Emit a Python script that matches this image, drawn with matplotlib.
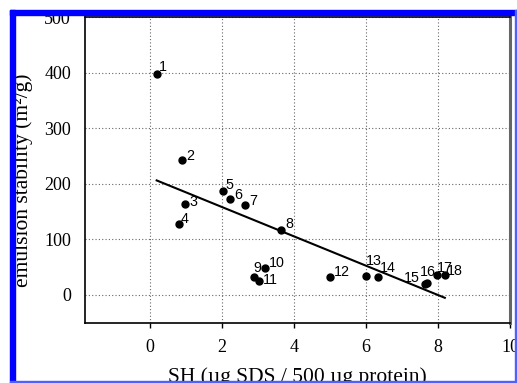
import numpy as np
import matplotlib
matplotlib.use("Agg")
import matplotlib.pyplot as plt
from matplotlib.patches import Rectangle

# valeurs
sample_ids = ["1", "2", "3", "4", "5", "6", "7", "8", "9",
              "10", "11", "12", "13", "14", "15", "16", "17", "18"]
sh = np.array([0.19, 0.90, 0.99, 0.81, 2.02, 2.22, 2.64, 3.64, 2.89,
               3.20, 3.04, 5.00, 6.00, 6.33, 7.64, 7.70, 7.98, 8.19])
stability = np.array([397, 243, 163, 127, 187, 173, 162, 116, 32,
                      49, 25, 32, 34, 32, 19, 22, 35, 35])

# droite tracée sur la figure (pente, ordonnée à l'origine)
fit_slope = -26.4
fit_intercept = 211.0

x_ticks = [0, 2, 4, 6, 8, 10]
y_ticks = [0, 100, 200, 300, 400, 500]

# décalage des étiquettes (pixels) : dx, dy, alignement
label_offsets = [(2.5, 3.3, "left"), (4, 0, "left"), (3.5, -1.7, "left"),
                 (2, 1.7, "left"), (3, 1.7, "left"), (4, -0.7, "left"),
                 (4.4, 0.3, "left"), (4.7, 2, "left"), (-0.3, 5.3, "left"),
                 (4, 0.4, "left"), (3.7, -3.3, "left"), (4, 1.3, "left"),
                 (0, 10.6, "left"), (2, 5.3, "left"), (-5.7, 2.6, "right"),
                 (-7.3, 7, "left"), (0, 3.7, "left"), (2.5, 0, "left")]

serif = "Liberation Serif"
sans = "Liberation Sans"

fig = plt.figure(figsize=(5.17, 3.83), dpi=100)
ax = fig.add_axes([85 / 517, 1 - 322.7 / 383, 425 / 517, (322.7 - 17) / 383])

ax.plot(sh, stability, "o", color="black", markersize=5, zorder=3)

xfit = np.array([sh.min(), sh.max()])
ax.plot(xfit, fit_slope * xfit + fit_intercept, color="black", lw=1.5, zorder=2)

for lab, xx, yy, (dx, dy, ha) in zip(sample_ids, sh, stability, label_offsets):
    ax.annotate(lab, (xx, yy), xytext=(dx, dy), textcoords="offset pixels",
                ha=ha, va="baseline", fontsize=10.3, family=sans)

ax.set_xlim(-1.8, 10)
ax.set_ylim(-50, 500)
ax.set_xticks(x_ticks)
ax.set_yticks(y_ticks)
ax.set_xticklabels([str(t) for t in x_ticks], family=serif, fontsize=13)
ax.set_yticklabels([str(t) for t in y_ticks], family=serif, fontsize=13)
ax.tick_params(axis="x", direction="out", length=3.5, width=1, pad=8)
ax.tick_params(axis="y", length=0, pad=10)

ax.grid(True, linestyle=(0, (1, 2)), color="0.4", lw=0.8)
ax.set_axisbelow(True)

for s in ["left", "bottom", "top"]:
    ax.spines[s].set_linewidth(1.2)
ax.spines["right"].set_color("#666666")
ax.spines["right"].set_linewidth(2.2)

ax.set_xlabel("SH (µg SDS / 500 µg protein)", family=serif, fontsize=15.5, labelpad=8)
ax.set_ylabel("emulsion stability (m²/g)", family=serif, fontsize=15.5)
ax.yaxis.set_label_coords(-0.122, 0.467)

# cadre bleu de la capture
W, H = 517, 383
fig.patches.append(Rectangle((0, 1 - 10 / H), 1, 10 / H, transform=fig.transFigure,
                             color="white", zorder=10))
fig.patches.append(Rectangle((0, 0), 10 / W, 1, transform=fig.transFigure,
                             color="white", zorder=10))
fig.patches.append(Rectangle((10 / W, 1 - 15 / H), 1, 5 / H, transform=fig.transFigure,
                             color="#0000ff", zorder=11))
fig.patches.append(Rectangle((10 / W, 0), 5 / W, 1 - 10 / H, transform=fig.transFigure,
                             color="#0000ff", zorder=11))
fig.patches.append(Rectangle((515 / W, 0), 2 / W, 1 - 10 / H, transform=fig.transFigure,
                             color="#5060ff", zorder=11))
fig.patches.append(Rectangle((10 / W, 0), 1, 2 / H, transform=fig.transFigure,
                             color="#5060ff", zorder=11))

fig.savefig("out.png", dpi=100)
